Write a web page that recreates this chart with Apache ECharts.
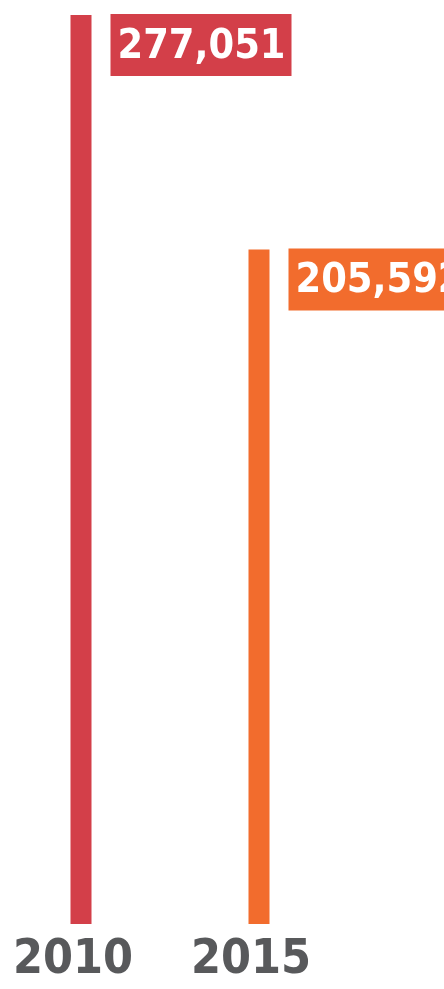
<!DOCTYPE html>
<html>
<head>
<meta charset="utf-8">
<script src="https://cdn.jsdelivr.net/npm/echarts@6/dist/echarts.min.js"></script>
<style>
  html, body { margin: 0; padding: 0; background: #fff; }
  #chart { width: 444px; height: 989px; }
</style>
</head>
<body>
<div id="chart"></div>
<script>
// data
const years = ['2010', '2015']
const totals = [277051, 205592]
const barColors = ['#d33f49', '#f26c2d']

const font = '"DejaVu Sans Condensed", "Liberation Sans", sans-serif'

const myChart = echarts.init(document.getElementById('chart'))

myChart.setOption({
    animation: false,
    grid: { left: 81, right: 185, top: 15, bottom: 61, containLabel: false },
    xAxis: {
        type: 'category',
        data: years,
        boundaryGap: false,
        axisLine: { show: false },
        axisTick: { show: false },
        axisLabel: {
            interval: 0,
            hideOverlap: false,
            color: '#58595b',
            fontFamily: font,
            fontWeight: 'bold',
            fontSize: 48,
            lineHeight: 56,
            margin: 9,
            padding: [0, 16, 0, 0]
        }
    },
    yAxis: {
        type: 'value',
        min: 0,
        max: totals[0],
        show: false,
        splitLine: { show: false }
    },
    series: [{
        type: 'bar',
        barWidth: 21,
        data: totals.map((v, i) => ({
            value: v,
            itemStyle: { color: barColors[i] },
            label: { backgroundColor: barColors[i] }
        })),
        label: {
            show: true,
            position: [40, -1],
            color: '#fff',
            fontFamily: font,
            fontWeight: 'bold',
            fontSize: 41,
            lineHeight: 58,
            padding: [4, 6, 0, 7],
            formatter: p => p.value.toLocaleString('en-US')
        }
    }]
})
</script>
</body>
</html>
